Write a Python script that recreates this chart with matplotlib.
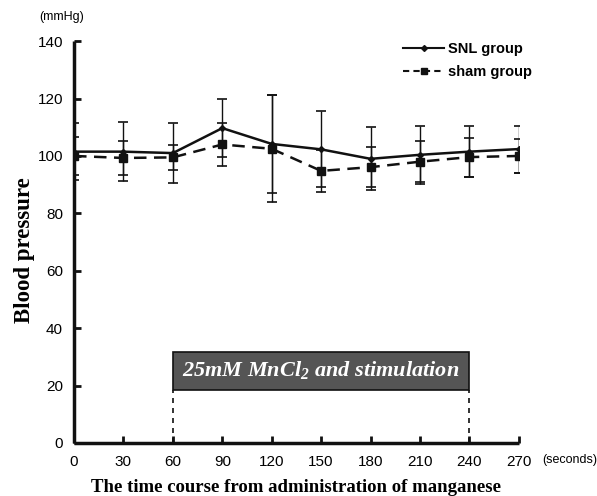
import numpy as np
import matplotlib
matplotlib.use('Agg')
import matplotlib.pyplot as plt
from matplotlib.patches import Rectangle
from matplotlib.lines import Line2D

# time points (seconds)
times = [0, 30, 60, 90, 120, 150, 180, 210, 240, 270]

snl_mean = [101.5, 101.5, 101.0, 109.7, 104.2, 102.3, 99.0, 100.4, 101.5, 102.4]
snl_err = [10.0, 10.3, 10.5, 10.0, 17.0, 13.2, 11.0, 10.2, 9.0, 8.2]

sham_mean = [100.0, 99.3, 99.5, 104.0, 102.5, 94.8, 96.1, 98.0, 99.6, 100.0]
sham_err = [6.5, 6.0, 4.3, 7.5, 18.7, 7.4, 7.0, 7.2, 6.8, 6.0]

y_ticks = [0, 20, 40, 60, 80, 100, 120, 140]
stim_start, stim_end = 60, 240
stim_label = '25mM MnCl$_2$ and stimulation'

tick_font = ['Liberation Sans', 'DejaVu Sans']
serif_font = ['Liberation Serif', 'DejaVu Serif']

plt.rcParams['mathtext.fontset'] = 'custom'
plt.rcParams['mathtext.rm'] = 'Liberation Serif:italic:bold'
plt.rcParams['mathtext.it'] = 'Liberation Serif:italic:bold'


def main():
    fig = plt.figure(figsize=(5.97, 4.96), dpi=100)
    ax = fig.add_axes([0.124, 0.107, 0.745, 0.81])

    ax.errorbar(times, snl_mean, yerr=snl_err, color='#111111', lw=1.8,
                marker='D', ms=3, elinewidth=1.0, capsize=3.5, capthick=1.2,
                zorder=3)
    ax.errorbar(times, sham_mean, yerr=sham_err, color='#111111', lw=1.8,
                ls=(0, (5, 3)), marker='s', ms=5.5, elinewidth=1.0,
                capsize=3.5, capthick=1.2, zorder=3)

    box_bottom, box_top = 18.5, 31.6
    ax.add_patch(Rectangle((stim_start, box_bottom), stim_end - stim_start,
                           box_top - box_bottom, facecolor='#555555',
                           edgecolor='#111111', lw=1.2, zorder=2))
    ax.text((stim_start + stim_end) / 2, (box_bottom + box_top) / 2 + 0.3, stim_label,
            color='white', fontsize=16, style='italic', fontweight='bold',
            family=serif_font, ha='center', va='center', zorder=4)
    for x in (stim_start, stim_end):
        ax.plot([x, x], [0, box_bottom], color='#111111', lw=1.2,
                ls=(0, (3, 3)), zorder=2)

    ax.set_xlim(0, 270)
    ax.set_ylim(0, 140)
    ax.set_xticks(times)
    ax.set_yticks(y_ticks)
    for lab in ax.get_xticklabels() + ax.get_yticklabels():
        lab.set_family(tick_font)
        lab.set_fontsize(11)
    ax.tick_params(direction='in', length=5, width=2, color='#111111')
    ax.tick_params(axis='x', pad=9)
    ax.tick_params(axis='y', pad=8)

    for s in ('top', 'right'):
        ax.spines[s].set_visible(False)
    for s in ('left', 'bottom'):
        ax.spines[s].set_linewidth(2.5)
        ax.spines[s].set_color('#111111')
        ax.spines[s].set_capstyle('butt')

    ax.set_ylabel('Blood pressure', family=serif_font, fontsize=16.5,
                  fontweight='bold')
    ax.yaxis.set_label_coords(-0.088, 0.48)
    ax.set_xlabel('The time course from administration of manganese',
                  family=serif_font, fontsize=13.5, fontweight='bold', labelpad=7)

    fig.text(0.065, 0.966, '(mmHg)', family=tick_font, fontsize=9,
             ha='left', va='center')
    fig.text(0.908, 0.072, '(seconds)', family=tick_font, fontsize=9,
             ha='left', va='center')

    handles = [
        Line2D([], [], color='#111111', lw=1.5, marker='D', ms=3),
        Line2D([], [], color='#111111', lw=1.5, ls=(0, (3, 2)), marker='s', ms=4.5),
    ]
    ax.legend(handles, ['SNL group', 'sham group'], loc='upper right',
              bbox_to_anchor=(1.06, 1.03), frameon=False,
              prop={'family': tick_font, 'size': 10.5, 'weight': 'bold'},
              handlelength=2.8, handletextpad=0.3, labelspacing=0.6)

    fig.savefig('out.png', dpi=100)


if __name__ == '__main__':
    main()
